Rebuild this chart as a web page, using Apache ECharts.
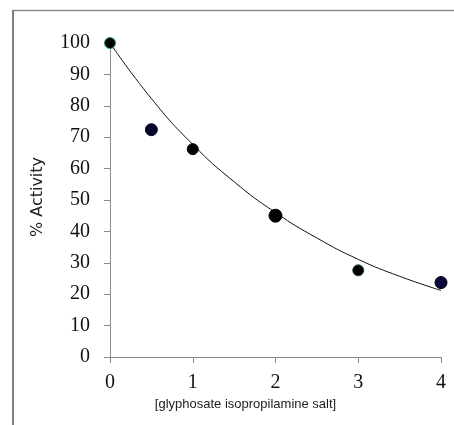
<!DOCTYPE html>
<html>
<head>
<meta charset="utf-8">
<script src="https://cdn.jsdelivr.net/npm/echarts@6/dist/echarts.min.js"></script>
<style>
  html, body { margin: 0; padding: 0; background: #fff; }
  #main { width: 454px; height: 425px; }
</style>
</head>
<body>
<div id="main"></div>
<script>
// measured points
var concentration = [0, 0.5, 1, 2, 3, 4];
var activity = [100, 72.4, 66.2, 45, 27.6, 23.7];

// trend curve
var trendX = [0, 0.5, 1, 1.5, 2, 2.5, 3, 3.5, 4];
var trendY = [100, 82.3, 67.7, 55.8, 46, 37.9, 31.1, 25.7, 21.2];

var xTicks = [0, 1, 2, 3, 4];
var yTicks = [0, 10, 20, 30, 40, 50, 60, 70, 80, 90, 100];

// marker look per point (size, fill, edge)
var pointStyles = [
    [11, '#000000', '#2f9c7c'],
    [12, '#05052a', '#05052a'],
    [11, '#000000', '#000000'],
    [13, '#000000', '#000000'],
    [11, '#000000', '#1f4a3a'],
    [12, '#08083a', '#000000']
];

var echart = echarts.init(document.getElementById('main'));

var points = concentration.map(function (x, i) {
    var s = pointStyles[i];
    return {
        value: [x, activity[i]],
        symbolSize: s[0],
        itemStyle: { color: s[1], borderColor: s[2], borderWidth: 1, opacity: 1 }
    };
});
var trend = trendX.map(function (x, i) { return [x, trendY[i]]; });

var option = {
    animation: false,
    backgroundColor: '#fff',
    grid: { left: 110, right: 13, top: 43, bottom: 68 },
    xAxis: {
        type: 'value',
        min: 0, max: 4, interval: 1,
        name: '[glyphosate isopropilamine salt]',
        nameLocation: 'middle',
        nameGap: 33,
        nameTextStyle: {
            fontFamily: "'Liberation Sans', sans-serif",
            fontSize: 13, color: '#222', padding: [0, 60, 0, 0]
        },
        axisLine: { show: true, lineStyle: { color: '#8a8a8a', width: 1 } },
        axisTick: { show: true, length: 6, lineStyle: { color: '#8a8a8a' } },
        axisLabel: {
            margin: 16, fontFamily: "'Liberation Serif', serif", fontSize: 20, color: '#111',
            formatter: function (v) { return xTicks.indexOf(v) >= 0 ? String(v) : ''; }
        },
        splitLine: { show: false }
    },
    yAxis: {
        type: 'value',
        min: 0, max: 100, interval: 10,
        name: '% Activity',
        nameLocation: 'middle',
        nameGap: 64,
        nameRotate: 90,
        nameTextStyle: {
            fontFamily: "'DejaVu Sans', sans-serif", fontSize: 16, color: '#222',
            padding: [0, 0, 0, 6]
        },
        axisLine: { show: true, lineStyle: { color: '#8a8a8a', width: 1 } },
        axisTick: { show: true, length: 6, lineStyle: { color: '#8a8a8a' } },
        axisLabel: {
            margin: 20, fontFamily: "'Liberation Serif', serif", fontSize: 20, color: '#111',
            formatter: function (v) { return yTicks.indexOf(v) >= 0 ? String(v) : ''; }
        },
        splitLine: { show: false }
    },
    graphic: [
        { type: 'line', shape: { x1: 13, y1: 10, x2: 13, y2: 425 }, style: { stroke: '#7f7f7f', lineWidth: 2 } },
        { type: 'line', shape: { x1: 12, y1: 10.5, x2: 454, y2: 10.5 }, style: { stroke: '#8c8c8c', lineWidth: 1.5 } }
    ],
    series: [
        {
            name: 'trend',
            type: 'line',
            data: trend,
            smooth: true,
            showSymbol: false,
            lineStyle: { color: '#111', width: 1 },
            z: 2
        },
        {
            name: 'activity',
            type: 'scatter',
            data: points,
            z: 3
        }
    ]
};
echart.setOption(option);
</script>
</body>
</html>
